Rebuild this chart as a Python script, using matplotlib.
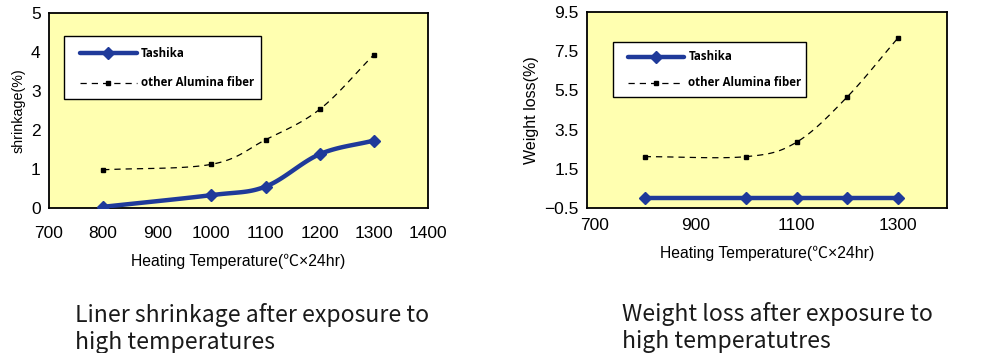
import numpy as np
import matplotlib
matplotlib.use("Agg")
import matplotlib.pyplot as plt

temps = [800, 1000, 1100, 1200, 1300]
shrink_tashika = [0.03, 0.33, 0.55, 1.38, 1.73]
shrink_other = [0.98, 1.12, 1.75, 2.53, 3.93]
wloss_tashika = [0.0, 0.0, 0.0, 0.0, 0.0]
wloss_other = [2.12, 2.12, 2.86, 5.17, 8.17]

series_names = ["Tashika", "other Alumina fiber"]
xlabel = "Heating Temperature(\u2103\u00d724hr)"
left_ylabel = "shrinkage(%)"
right_ylabel = "Weight loss(%)"
left_caption = "Liner shrinkage after exposure to\nhigh temperatures"
right_caption = "Weight loss after exposure to\nhigh temperatutres"
left_xticks = [700, 800, 900, 1000, 1100, 1200, 1300, 1400]
left_yticks = [0, 1, 2, 3, 4, 5]
right_xticks = [700, 900, 1100, 1300]
right_yticks = [-0.5, 1.5, 3.5, 5.5, 7.5, 9.5]

SANS = ["Liberation Sans", "Noto Sans CJK JP", "DejaVu Sans"]
CAP = ["Noto Sans CJK KR", "DejaVu Sans"]

BLUE = "#1f3a9a"
YELLOW = "#ffffb0"


def smooth(x, y, n=30):
    # Catmull-Rom style smoothing (render style only, passes through data)
    x = np.asarray(x, float); y = np.asarray(y, float)
    px = np.concatenate([[2 * x[0] - x[1]], x, [2 * x[-1] - x[-2]]])
    py = np.concatenate([[2 * y[0] - y[1]], y, [2 * y[-1] - y[-2]]])
    xs, ys = [], []
    for i in range(1, len(px) - 2):
        t = np.linspace(0, 1, n)
        for arr, out in ((px, xs), (py, ys)):
            p0, p1, p2, p3 = arr[i - 1], arr[i], arr[i + 1], arr[i + 2]
            out.extend(0.5 * ((2 * p1) + (-p0 + p2) * t + (2 * p0 - 5 * p1 + 4 * p2 - p3) * t ** 2
                              + (-p0 + 3 * p1 - 3 * p2 + p3) * t ** 3))
    return np.array(xs), np.array(ys)


fig = plt.figure(figsize=(9.82, 3.53), dpi=100)
W, H = 982, 353


def make_axes(l, r, t, b):
    return fig.add_axes([l / W, 1 - b / H, (r - l) / W, (b - t) / H])


def draw(ax, yt, yo, xlim, ylim, xticks, yticks, ylabel, ylsize, xpad, legbox, yfmt):
    ax.set_facecolor(YELLOW)
    sx, sy = smooth(temps, yt)
    ax.plot(sx, sy, color=BLUE, lw=3.2, solid_capstyle="round", zorder=3)
    ax.plot(temps, yt, ls="none", marker="D", ms=6, color=BLUE, zorder=4)
    sx, sy = smooth(temps, yo)
    ax.plot(sx, sy, color="black", lw=0.9, ls=(0, (5, 4)), zorder=3)
    ax.plot(temps, yo, ls="none", marker="s", ms=3.5, color="black", zorder=4)
    ax.set_xlim(*xlim)
    ax.set_ylim(*ylim)
    ax.set_xticks(xticks)
    ax.set_yticks(yticks)
    ax.set_yticklabels([yfmt(v) for v in yticks])
    for s in ax.spines.values():
        s.set_linewidth(1.3)
        s.set_color("black")
    ax.tick_params(length=0, labelsize=12.5, pad=6)
    ax.tick_params(axis="x", pad=xpad)
    for lab in ax.get_xticklabels() + ax.get_yticklabels():
        lab.set_family(SANS)
    ax.set_xlabel(xlabel, fontsize=11.3, family=SANS, labelpad=9)
    ax.set_ylabel(ylabel, fontsize=ylsize, family=SANS, labelpad=4)
    # legend box drawn in axes coordinates
    x0, y0, x1, y1 = legbox
    bb = ax.transAxes.inverted()
    (ax0, ay1) = bb.transform(fig.transFigure.transform((x0 / W, 1 - y0 / H)))
    (ax1, ay0) = bb.transform(fig.transFigure.transform((x1 / W, 1 - y1 / H)))
    rect = plt.Rectangle((ax0, ay0), ax1 - ax0, ay1 - ay0, transform=ax.transAxes,
                         facecolor="white", edgecolor="black", lw=1.0, zorder=5)
    ax.add_patch(rect)
    h = ay1 - ay0
    wdt = ax1 - ax0
    lx0 = ax0 + 0.08 * wdt
    lx1 = ax0 + 0.37 * wdt
    ya = ay0 + 0.73 * h
    yb = ay0 + 0.26 * h
    ax.plot([lx0, lx1], [ya, ya], transform=ax.transAxes, color=BLUE, lw=3.2, zorder=6, solid_capstyle="round")
    ax.plot([(lx0 + lx1) / 2], [ya], transform=ax.transAxes, marker="D", ms=6, color=BLUE, zorder=7)
    ax.plot([lx0, lx1], [yb, yb], transform=ax.transAxes, color="black", lw=0.9, ls=(0, (5, 4)), zorder=6)
    ax.plot([(lx0 + lx1) / 2], [yb], transform=ax.transAxes, marker="s", ms=3.5, color="black", zorder=7)
    for yy, name in zip((ya, yb), series_names):
        ax.text(lx1 + 0.02 * wdt, yy, name, transform=ax.transAxes, fontsize=8.3,
                fontweight="bold", family="Open Sans", va="center", ha="left", zorder=7)


ax1 = make_axes(49, 428, 13, 208)
draw(ax1, shrink_tashika, shrink_other, (700, 1400), (0, 5), left_xticks, left_yticks,
     left_ylabel, 10.3, 13, (64, 36, 261, 99), lambda v: f"{v:g}")

ax2 = make_axes(587, 947, 12, 208)
draw(ax2, wloss_tashika, wloss_other, (686, 1397), (-0.5, 9.5), right_xticks, right_yticks,
     right_ylabel, 11.5, 7, (613, 42, 806, 97), lambda v: f"{v:.1f}".replace("-", "\u2212"))

cap_kw = dict(fontsize=16.6, family=CAP, fontweight="light", color="#1a1a1a",
              va="baseline", ha="left")
l1, l2 = left_caption.split("\n")
r1, r2 = right_caption.split("\n")
fig.text(75 / W, 1 - 322 / H, l1, **cap_kw)
fig.text(75 / W, 1 - 349 / H, l2, **cap_kw)
fig.text(622 / W, 1 - 321 / H, r1, **cap_kw)
fig.text(622 / W, 1 - 348 / H, r2, **cap_kw)

fig.savefig("out.png", dpi=100, facecolor="white")
